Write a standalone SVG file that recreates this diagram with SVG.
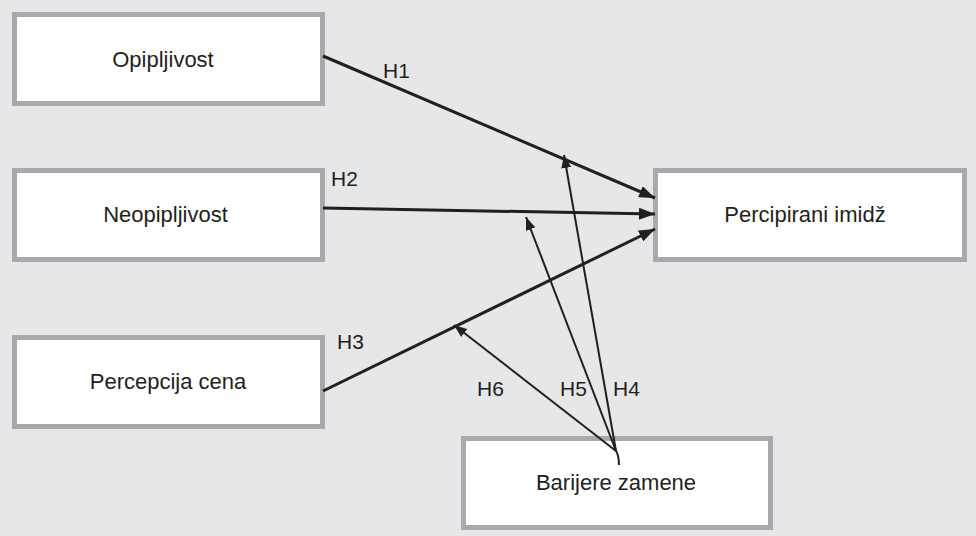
<svg xmlns="http://www.w3.org/2000/svg" width="976" height="536" viewBox="0 0 976 536">
<style>
.box{fill:#ffffff;stroke:#a7a9ac;stroke-width:5}
.lbl{font-family:"Liberation Sans",Arial,sans-serif;font-size:22px;fill:#231f20;text-anchor:middle}
.h{font-family:"Liberation Sans",Arial,sans-serif;font-size:21px;fill:#231f20}
.main{stroke:#231f20;stroke-width:3;fill:none}
.mod{stroke:#231f20;stroke-width:2;fill:none}
</style>
<defs>
<marker id="am" markerUnits="userSpaceOnUse" markerWidth="17" markerHeight="12" refX="16" refY="6" orient="auto"><path d="M0,0 L16,6 L0,12 Z" fill="#231f20"/></marker>
<marker id="as" markerUnits="userSpaceOnUse" markerWidth="14" markerHeight="10" refX="13" refY="5" orient="auto"><path d="M0,0 L13,5 L0,10 Z" fill="#231f20"/></marker>
</defs>
<rect x="0" y="0" width="976" height="536" fill="#e6e7e8"/>
<g id="opipljivost"><rect class="box" x="14.5" y="14.5" width="308" height="89"/><text class="lbl" x="163" y="67">Opipljivost</text></g>
<g id="neopipljivost"><rect class="box" x="14.5" y="170.5" width="308" height="89"/><text class="lbl" x="165.5" y="222">Neopipljivost</text></g>
<g id="percepcija-cena"><rect class="box" x="14.5" y="337.5" width="308" height="89"/><text class="lbl" x="168" y="389">Percepcija cena</text></g>
<g id="percipirani-imidz"><rect class="box" x="655.5" y="170.5" width="309" height="89"/><text class="lbl" x="805" y="222">Percipirani imidž</text></g>
<g id="barijere-zamene"><rect class="box" x="463.5" y="438.5" width="307" height="89"/><text class="lbl" x="616" y="490">Barijere zamene</text></g>
<g id="connectors">
<line class="main" x1="323" y1="56" x2="655" y2="198" marker-end="url(#am)"/>
<line class="main" x1="323" y1="208" x2="655" y2="214" marker-end="url(#am)"/>
<line class="main" x1="323" y1="391" x2="655" y2="229" marker-end="url(#am)"/>
<line class="mod" x1="616" y1="451" x2="564" y2="155" marker-end="url(#as)"/>
<line class="mod" x1="616" y1="451" x2="526" y2="217" marker-end="url(#as)"/>
<line class="mod" x1="616" y1="451" x2="454" y2="325" marker-end="url(#as)"/>
<path class="mod" d="M615,449 Q619,455 619,465"/>
<text class="h" x="383" y="78">H1</text>
<text class="h" x="331" y="186">H2</text>
<text class="h" x="337" y="349">H3</text>
<text class="h" x="613" y="396">H4</text>
<text class="h" x="560" y="396">H5</text>
<text class="h" x="477" y="396">H6</text>
</g>
</svg>
